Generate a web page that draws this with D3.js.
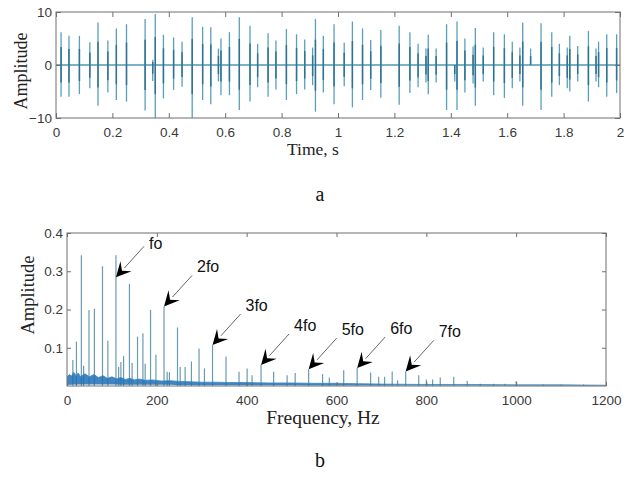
<!DOCTYPE html>
<html>
<head>
<meta charset="utf-8">
<script src="https://cdn.jsdelivr.net/npm/d3@7/dist/d3.min.js"></script>
<style>
  body { margin: 0; background: #fff; }
  svg { display: block; }
</style>
</head>
<body>
<svg id="fig" width="631" height="477"></svg>
<script>
// ---- (a) time-domain pulse train ----
const pulseTime = [0.018, 0.046, 0.083, 0.120, 0.149, 0.184, 0.214, 0.250, 0.316, 0.343,
  0.352, 0.381, 0.417, 0.447, 0.483, 0.520, 0.549, 0.576, 0.585, 0.615,
  0.650, 0.688, 0.715, 0.752, 0.780, 0.817, 0.853, 0.882, 0.910, 0.920,
  0.948, 0.986, 1.022, 1.051, 1.087, 1.116, 1.152, 1.217, 1.255, 1.284,
  1.312, 1.320, 1.348, 1.385, 1.414, 1.422, 1.450, 1.479, 1.487, 1.515,
  1.552, 1.590, 1.618, 1.645, 1.655, 1.683, 1.720, 1.758, 1.785, 1.813,
  1.822, 1.850, 1.888, 1.915, 1.924, 1.953, 1.988];
const pulseHigh = [6.2, 5.5, 5.5, 4.3, 8.0, 4.6, 6.9, 7.7, 8.7, 1.0,
  9.6, 5.7, 5.2, 4.4, 9.0, 7.2, 7.1, 3.1, 5.0, 6.2,
  9.0, 7.4, 4.0, 6.0, 4.6, 6.8, 5.8, 4.8, 3.3, 8.7,
  5.5, 7.7, 4.2, 8.2, 6.9, 4.7, 6.6, 7.4, 6.2, 4.0,
  3.1, 5.7, 3.1, 7.7, 0.0, 8.2, 5.0, 3.5, 7.0, 3.3,
  6.2, 5.8, 4.4, 3.3, 8.0, 3.1, 7.9, 6.2, 4.0, 3.3,
  5.5, 3.6, 6.4, 3.1, 4.4, 5.8, 5.8];
const pulseLow = [-6.0, -6.0, -5.5, -4.4, -7.7, -5.2, -6.6, -6.9, -8.6, -3.0,
  -10.0, -6.3, -4.7, -4.1, -10.0, -6.6, -7.4, -3.1, -5.7, -5.7,
  -8.5, -6.9, -4.2, -6.0, -4.6, -6.6, -5.5, -4.6, -3.8, -8.8,
  -5.2, -7.4, -4.0, -8.0, -6.6, -4.7, -6.2, -7.5, -5.3, -4.2,
  -3.3, -5.5, -3.3, -8.5, -3.1, -8.5, -5.2, -3.5, -7.7, -3.1,
  -5.7, -6.2, -4.4, -3.1, -7.7, 0.0, -8.5, -6.0, -3.8, -4.4,
  -5.0, -3.1, -6.9, -3.1, -4.2, -6.0, -5.3];
const timeTicks = [0, 0.2, 0.4, 0.6, 0.8, 1, 1.2, 1.4, 1.6, 1.8, 2];
const timeTickLabels = ["0", "0.2", "0.4", "0.6", "0.8", "1", "1.2", "1.4", "1.6", "1.8", "2"];
const signalTicks = [-10, 0, 10];

// ---- (b) amplitude spectrum ----
const peakFreq = [13, 21, 32, 37, 49, 61, 79, 91, 109, 115,
  120, 126, 139, 145, 157, 169, 174, 186, 198, 216,
  223, 228, 246, 252, 263, 277, 294, 306, 324, 354,
  383, 401, 412, 432, 460, 490, 508, 538, 569, 584,
  616, 646, 676, 694, 707, 724, 736, 754, 783, 800,
  814, 831, 861, 891, 920, 950, 975, 1000, 1060, 1100, 1150];
const peakAmp = [0.068, 0.116, 0.342, 0.053, 0.199, 0.202, 0.313, 0.118, 0.342, 0.050,
  0.063, 0.078, 0.267, 0.060, 0.129, 0.138, 0.058, 0.199, 0.082, 0.208,
  0.037, 0.036, 0.153, 0.050, 0.050, 0.064, 0.098, 0.046, 0.107, 0.077,
  0.037, 0.046, 0.028, 0.055, 0.037, 0.028, 0.034, 0.044, 0.031, 0.022,
  0.041, 0.047, 0.035, 0.024, 0.024, 0.038, 0.015, 0.038, 0.028, 0.017,
  0.017, 0.022, 0.024, 0.013, 0.006, 0.006, 0.006, 0.013, 0.004, 0.004, 0.004];
const noiseFreq = [0, 5, 10, 15, 20, 25, 30, 40, 50, 60, 70, 80, 90, 100, 110, 120, 130, 140,
  150, 160, 175, 190, 210, 230, 250, 275, 300, 330, 360, 400, 450, 500, 550, 600, 650,
  700, 800, 900, 1000, 1100, 1200];
const noiseHigh = [0.024, 0.030, 0.026, 0.036, 0.027, 0.034, 0.025, 0.032, 0.024, 0.030,
  0.022, 0.027, 0.020, 0.024, 0.019, 0.022, 0.017, 0.020, 0.016, 0.018, 0.015, 0.016,
  0.013, 0.014, 0.012, 0.011, 0.010, 0.010, 0.009, 0.009, 0.008, 0.008, 0.007, 0.007,
  0.006, 0.005, 0.004, 0.004, 0.003, 0.003, 0.002];
const noiseLow = [0.002, 0.003, 0.003, 0.004, 0.003, 0.004, 0.004, 0.004, 0.004, 0.004,
  0.004, 0.004, 0.004, 0.004, 0.004, 0.003, 0.003, 0.003, 0.003, 0.003, 0.003, 0.003,
  0.003, 0.003, 0.002, 0.002, 0.002, 0.002, 0.002, 0.002, 0.002, 0.002, 0.001, 0.001,
  0.001, 0.001, 0.001, 0.001, 0.001, 0.001, 0.001];
const freqTicks = [0, 200, 400, 600, 800, 1000, 1200];
const spectrumTicks = [0.1, 0.2, 0.3, 0.4];
const harmonicNames = ["fo", "2fo", "3fo", "4fo", "5fo", "6fo", "7fo"];
const harmonicFreq = [109, 216, 324, 432, 538, 646, 754];
const harmonicAmp = [0.284, 0.208, 0.107, 0.055, 0.044, 0.047, 0.038];

// ---- drawing ----
const svg = d3.select("#fig");
const boxColor = "#6f6f6f";
const tickFont = "'Liberation Sans', Arial, sans-serif";
const labelFont = "'Liberation Serif', 'Times New Roman', serif";

function frame(g, x, y, xTicks, xLabels, yTicks, yFmt, tickLen) {
  const [x0, x1] = x.range();
  const [y0, y1] = y.range(); // y0 bottom, y1 top
  // inward ticks on all four sides
  g.append("g").call(d3.axisBottom(x).tickValues(xTicks).tickSize(-tickLen)
      .tickFormat((d, i) => xLabels ? xLabels[i] : d))
    .attr("transform", `translate(0,${y0})`).call(styleAxis, 9);
  g.append("g").call(d3.axisTop(x).tickValues(xTicks).tickSize(-tickLen).tickFormat(""))
    .attr("transform", `translate(0,${y1})`).call(styleAxis, 0);
  g.append("g").call(d3.axisLeft(y).tickValues(yTicks).tickSize(-tickLen).tickFormat(yFmt))
    .attr("transform", `translate(${x0},0)`).call(styleAxis, 4);
  g.append("g").call(d3.axisRight(y).tickValues(yTicks).tickSize(-tickLen).tickFormat(""))
    .attr("transform", `translate(${x1},0)`).call(styleAxis, 0);
  g.append("rect").attr("x", x0).attr("y", y1).attr("width", x1 - x0).attr("height", y0 - y1)
    .attr("fill", "none").attr("stroke", boxColor).attr("stroke-width", 1);
}
function styleAxis(sel, pad) {
  sel.select(".domain").remove();
  sel.selectAll(".tick line").attr("stroke", boxColor).attr("stroke-width", 1);
  sel.selectAll(".tick text").attr("font-family", tickFont).attr("font-size", 13.5)
    .attr("fill", "#3a3a3a");
  if (pad) sel.selectAll(".tick text").each(function () {
    const t = d3.select(this);
    if (t.attr("x") !== null && +t.attr("x") < 0) t.attr("x", -pad);
    else if (t.attr("y") !== null && +t.attr("y") > 0) t.attr("y", pad);
  });
}

// (a)
const xa = d3.scaleLinear().domain([0, 2]).range([56, 620]);
const ya = d3.scaleLinear().domain([-10, 10]).range([118, 12]);
const ga = svg.append("g");
// baseline of the signal between pulses
ga.append("line").attr("x1", xa(0)).attr("x2", xa(2)).attr("y1", ya(0)).attr("y2", ya(0))
  .attr("stroke", "#4f97b3").attr("stroke-width", 1.3);
const pulses = pulseTime.map((t, i) => ({ t, hi: pulseHigh[i], lo: pulseLow[i] }));
ga.selectAll("line.outer").data(pulses).join("line").attr("class", "outer")
  .attr("x1", d => xa(d.t)).attr("x2", d => xa(d.t))
  .attr("y1", d => ya(d.hi)).attr("y2", d => ya(d.lo))
  .attr("stroke", "#5a9fba").attr("stroke-width", 1.3);
ga.selectAll("line.inner").data(pulses).join("line").attr("class", "inner")
  .attr("x1", d => xa(d.t)).attr("x2", d => xa(d.t))
  .attr("y1", d => ya(d.hi * 0.55)).attr("y2", d => ya(d.lo * 0.55))
  .attr("stroke", "#2f7391").attr("stroke-width", 1.5);
frame(ga, xa, ya, timeTicks, timeTickLabels, signalTicks, d3.format("d"), 5);
ga.append("text").attr("transform", "translate(27,71) rotate(-90)").attr("text-anchor", "middle")
  .attr("font-family", labelFont).attr("font-size", 18).attr("fill", "#222").text("Amplitude");
ga.append("text").attr("x", 313).attr("y", 155).attr("text-anchor", "middle")
  .attr("font-family", labelFont).attr("font-size", 17.5).attr("fill", "#222").text("Time, s");
svg.append("text").attr("x", 320).attr("y", 201).attr("text-anchor", "middle")
  .attr("font-family", labelFont).attr("font-size", 20).attr("fill", "#111").text("a");

// (b)
const xb = d3.scaleLinear().domain([0, 1200]).range([67, 606]);
const yb = d3.scaleLinear().domain([0, 0.4]).range([386, 233]);
const gb = svg.append("g");
const peaks = peakFreq.map((f, i) => ({ f, a: peakAmp[i] }));
gb.selectAll("line.peak").data(peaks).join("line").attr("class", "peak")
  .attr("x1", d => xb(d.f)).attr("x2", d => xb(d.f))
  .attr("y1", yb(0)).attr("y2", d => yb(d.a))
  .attr("stroke", "#6a9bb0").attr("stroke-width", 1.2);
// broadband noise floor drawn over the feet of the peaks
const noise = noiseFreq.map((f, i) => ({ f, hi: noiseHigh[i], lo: noiseLow[i] }));
gb.append("path").datum(noise)
  .attr("d", d3.area().x(d => xb(d.f)).y0(d => yb(d.lo)).y1(d => yb(d.hi)))
  .attr("fill", "#1f6fb6").attr("fill-opacity", 0.85);
gb.append("path").datum(noise)
  .attr("d", d3.line().x(d => xb(d.f)).y(d => yb(d.hi)))
  .attr("fill", "none").attr("stroke", "#3a8ac2").attr("stroke-width", 0.8);
frame(gb, xb, yb, freqTicks, null, spectrumTicks, d3.format(".1f"), 4);
gb.append("text").attr("transform", "translate(34,295) rotate(-90)").attr("text-anchor", "middle")
  .attr("font-family", labelFont).attr("font-size", 18.5).attr("fill", "#222").text("Amplitude");
gb.append("text").attr("x", 323).attr("y", 424).attr("text-anchor", "middle")
  .attr("font-family", labelFont).attr("font-size", 19.5).attr("fill", "#222").text("Frequency, Hz");
svg.append("text").attr("x", 320).attr("y", 467).attr("text-anchor", "middle")
  .attr("font-family", labelFont).attr("font-size", 20).attr("fill", "#111").text("b");

// harmonic call-outs: thin leader with a notched arrowhead
const tail = { dx: 28, dy: -31 };
const ang = Math.atan2(-tail.dy, -tail.dx) * 180 / Math.PI;
const callouts = harmonicNames.map((n, i) => ({ n, f: harmonicFreq[i], a: harmonicAmp[i] }));
const co = gb.selectAll("g.callout").data(callouts).join("g").attr("class", "callout")
  .attr("transform", d => `translate(${xb(d.f)},${yb(d.a)})`);
co.append("line").attr("x1", tail.dx).attr("y1", tail.dy)
  .attr("x2", tail.dx * 0.3).attr("y2", tail.dy * 0.3)
  .attr("stroke", "#555").attr("stroke-width", 0.9);
co.append("path").attr("d", "M0,0 L-15,-7.5 L-9,0 L-15,7.5 Z")
  .attr("transform", `rotate(${ang})`).attr("fill", "#000");
co.append("text").attr("x", 33).attr("y", d => d.n === "fo" ? -28 : -34)
  .attr("font-family", tickFont).attr("font-size", 16).attr("fill", "#111").text(d => d.n);
</script>
</body>
</html>
